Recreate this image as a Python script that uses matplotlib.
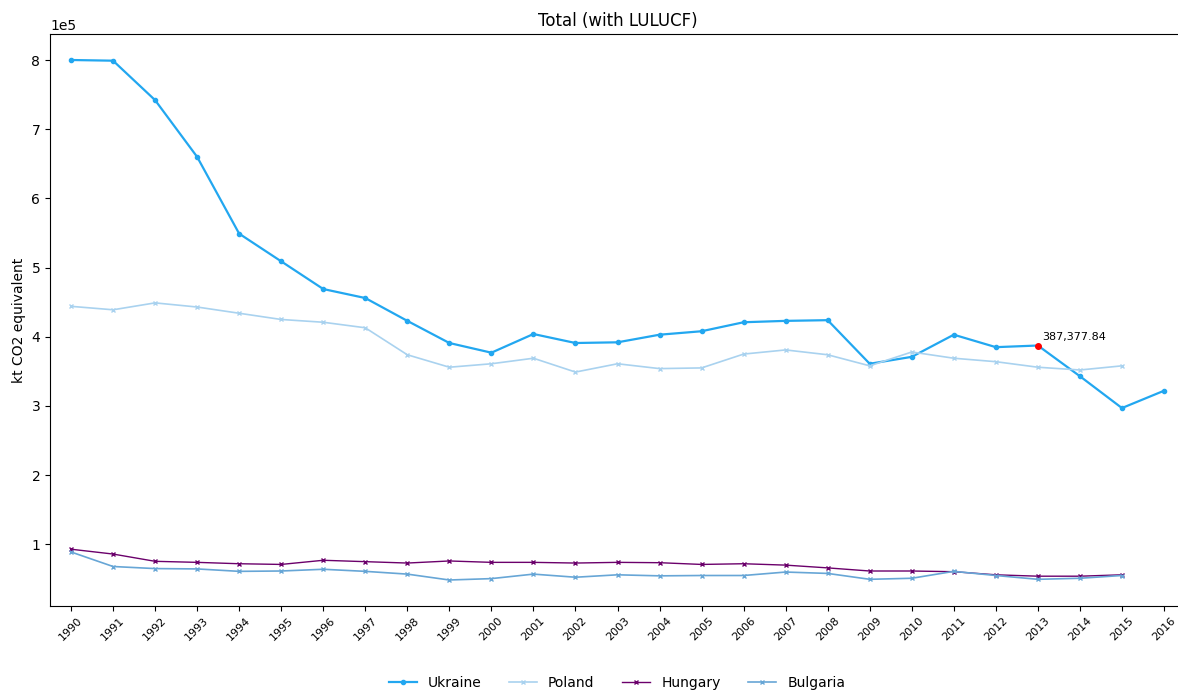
import numpy as np
import matplotlib.pyplot as plt

years = list(range(1990, 2017))

ukraine = [800000, 799000, 742000, 660000, 549000, 509000, 469000, 456000, 423000, 391000,
           377000, 404000, 391000, 392000, 403000, 408000, 421000, 423000, 424000, 361000,
           371000, 403000, 385000, 387377.84, 343000, 297000, 322000]
poland = [444000, 439000, 449000, 443000, 434000, 425000, 421000, 413000, 374000, 356000,
          361000, 369000, 349000, 361000, 354000, 355000, 375000, 381000, 374000, 358000,
          378000, 369000, 364000, 356000, 352000, 358000]
hungary = [93000, 86000, 75500, 74000, 72000, 71000, 77000, 75000, 73000, 76000,
           74000, 74000, 73000, 74000, 73500, 71000, 72000, 70000, 66000, 61500,
           61500, 60500, 56000, 54000, 54000, 56000]
bulgaria = [89000, 68000, 65000, 64500, 61000, 61500, 64000, 61000, 57000, 48500,
            50500, 57000, 52500, 56000, 54500, 55000, 55000, 60000, 58000, 49500,
            51000, 61000, 55000, 49500, 51000, 55000]

highlight_year = 2013
highlight_val = 387377.84

fig = plt.figure(figsize=(11.78, 6.95), dpi=100)
ax = fig.add_axes([50 / 1178, 89 / 695, 1135 / 1178, 572 / 695])

ax.plot(years, ukraine, color="#22a7f0", marker=".", markersize=6, linewidth=1.6, label="Ukraine")
ax.plot(years[:len(poland)], poland, color="#a9d2ef", marker="x", markersize=3.5, linewidth=1.2, label="Poland")
ax.plot(years[:len(hungary)], hungary, color="#6b006b", marker="x", markersize=3.5, linewidth=1.0, label="Hungary")
ax.plot(years[:len(bulgaria)], bulgaria, color="#67a6d6", marker="x", markersize=3.5, linewidth=1.2, label="Bulgaria")

# point mis en évidence
ax.plot([highlight_year], [highlight_val], "o", color="red", markersize=4, zorder=5)
ax.annotate(f"{highlight_val:,.2f}", (highlight_year, highlight_val),
            xytext=(3, 4), textcoords="offset points", fontsize=8)

ax.set_xlim(1989.5, 2016.5)
ax.set_xticks(years)
ax.set_xticklabels([str(y) for y in years], rotation=45, fontsize=8)
ax.ticklabel_format(axis="y", style="sci", scilimits=(0, 0))
ax.set_ylabel("kt CO2 equivalent")
ax.set_title("Total (with LULUCF)", fontsize=12)

ax.legend(loc="upper center", bbox_to_anchor=(567 / 1135, -0.1), ncol=4, frameon=False,
          columnspacing=2.0)

fig.savefig("out.png", dpi=100)
